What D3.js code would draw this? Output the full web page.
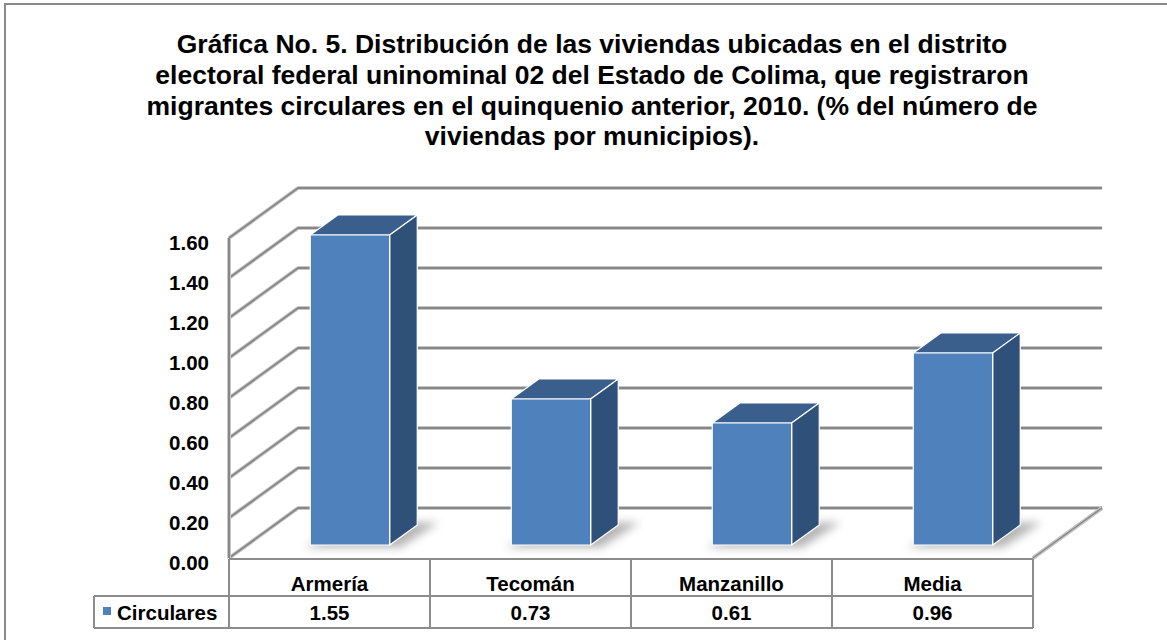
<!DOCTYPE html>
<meta charset="utf-8">
<style>
body { margin: 0; background: #fff; }
text { font-family: Arial, "Liberation Sans", sans-serif; font-weight: bold; fill: #000; }
</style>
<body>
<script src="https://cdn.jsdelivr.net/npm/d3@7"></script>
<script>
// datos
var titulo = [
  "Gráfica No. 5. Distribución de las viviendas ubicadas en el distrito",
  "electoral federal uninominal 02 del Estado de Colima, que registraron",
  "migrantes circulares en el quinquenio anterior, 2010. (% del número de",
  "viviendas por municipios)."
];
var categorias = ["Armería", "Tecomán", "Manzanillo", "Media"];
var circulares = [1.55, 0.73, 0.61, 0.96];
var serie = "Circulares";
var ticks = [0, 0.2, 0.4, 0.6, 0.8, 1.0, 1.2, 1.4, 1.6];

var width = 1167, height = 640;
var DX = 69, DY = 50;          // desplazamiento de profundidad
var x0 = 229, x1 = 1033;       // plano frontal
var yBase = 558;

var svg = d3.select("body").append("svg")
    .attr("width", width)
    .attr("height", height);

var defs = svg.append("defs");
defs.append("filter").attr("id", "blur")
    .attr("x", "-50%").attr("y", "-50%").attr("width", "200%").attr("height", "200%")
  .append("feGaussianBlur").attr("stdDeviation", 4);
defs.append("filter").attr("id", "soft")
  .append("feGaussianBlur").attr("stdDeviation", 0.6);

// marco exterior
svg.append("rect")
    .attr("x", 5).attr("y", 4)
    .attr("width", 1300).attr("height", 800)
    .attr("fill", "none").attr("stroke", "#8a8a8a").attr("stroke-width", 2);

// titulo
svg.append("g").selectAll("text")
    .data(titulo)
  .enter().append("text")
    .attr("x", 592)
    .attr("y", function(d, i) { return 53 + i * 30.8; })
    .attr("text-anchor", "middle")
    .style("font-size", "26.5px")
    .text(function(d) { return d; });

var x = d3.scaleBand().domain(categorias).range([x0, x1]);
var y = d3.scaleLinear().domain([0, 1.6]).range([yBase, yBase - 320]);

// proyeccion: punto del plano frontal desplazado en profundidad z (0..1)
function P(px, v, z) { return [px + z * DX, y(v) - z * DY]; }

var grid = svg.append("g");
var line = d3.line();

function gridLine(pts, w) {
  grid.append("path").attr("d", line(pts))
      .attr("fill", "none").attr("stroke", "#c8c8c8").attr("stroke-width", w + 2)
      .attr("stroke-linejoin", "round");
  grid.append("path").attr("d", line(pts))
      .attr("fill", "none").attr("stroke", "#878787").attr("stroke-width", w)
      .attr("stroke-linejoin", "round");
}

// pared izquierda y pared del fondo
ticks.forEach(function(t) {
  gridLine([P(x0, t, 0), P(x0, t, 1), P(x1, t, 1)], 2);
});
// arista vertical izquierda
gridLine([P(x0, 0, 0), P(x0, 1.6, 0)], 2);
// piso: arista derecha
grid.append("path")
    .attr("d", line([P(x1, 0, 0), P(x1, 0, 1)]))
    .attr("stroke", "#b0b0b0").attr("stroke-width", 4).attr("filter", "url(#soft)");
gridLine([P(x1, 0, 0), P(x1, 0, 1)], 1.5);

// etiquetas del eje y
svg.append("g").selectAll("text")
    .data(ticks)
  .enter().append("text")
    .attr("x", 209)
    .attr("y", function(d) { return y(d) + 12; })
    .attr("text-anchor", "end")
    .style("font-size", "20.5px")
    .text(d3.format(".2f"));

// barras 3d
var zf = 0.26, zb = 0.66;
var bw = x.bandwidth();
var bars = svg.append("g").selectAll("g")
    .data(categorias.map(function(c, i) { return {c: c, v: circulares[i]}; }))
  .enter().append("g");

function poly(pts) { return "M" + pts.join("L") + "Z"; }
function bx(d) { return x(d.c) + bw * 0.315; }
function bx2(d) { return x(d.c) + bw * 0.71; }

// sombra
bars.append("path")
    .attr("d", function(d) {
      return poly([P(bx(d) - 2, 0, zf - 0.05), P(bx2(d) + 14, 0, zf - 0.05),
                   P(bx2(d) + 18, 0, zb + 0.05), P(bx(d) + 14, 0, zb + 0.05)]);
    })
    .attr("fill", "#7a7a7a").attr("opacity", 0.55).attr("filter", "url(#blur)");

// cara superior
bars.append("path")
    .attr("d", function(d) {
      return poly([P(bx(d), d.v, zf), P(bx2(d), d.v, zf), P(bx2(d), d.v, zb), P(bx(d), d.v, zb)]);
    })
    .attr("fill", "#3b5f8d");
// cara lateral
bars.append("path")
    .attr("d", function(d) {
      return poly([P(bx2(d), 0, zf), P(bx2(d), d.v, zf), P(bx2(d), d.v, zb), P(bx2(d), 0, zb)]);
    })
    .attr("fill", "#2f5078");
// cara frontal
bars.append("path")
    .attr("d", function(d) {
      return poly([P(bx(d), 0, zf), P(bx2(d), 0, zf), P(bx2(d), d.v, zf), P(bx(d), d.v, zf)]);
    })
    .attr("fill", "#4f81bd");
bars.selectAll("path:not(:first-child)")
    .attr("stroke", "#fff").attr("stroke-width", 1.2).attr("stroke-linejoin", "round");

// tabla de datos
var tabla = svg.append("g")
    .attr("stroke", "#8c8c8c").attr("stroke-width", 2).attr("fill", "none");
var r0 = yBase + 1, r1 = 596, r2 = 628, xl = 94;
tabla.append("path").attr("d", line([[x0, r0], [x1, r0]]));
tabla.append("path").attr("d", line([[xl, r1], [x1, r1]]));
tabla.append("path").attr("d", line([[xl, r2], [x1, r2]]));
tabla.append("path").attr("d", line([[xl, r1], [xl, r2]]));
tabla.selectAll(".v")
    .data(categorias.concat(["fin"]))
  .enter().append("path")
    .attr("d", function(d) {
      var xx = d === "fin" ? x1 : x(d);
      return line([[xx, r0], [xx, r2]]);
    });

svg.append("g").selectAll("text")
    .data(categorias)
  .enter().append("text")
    .attr("x", function(d) { return x(d) + bw / 2; })
    .attr("y", 591)
    .attr("text-anchor", "middle")
    .style("font-size", "20.5px")
    .text(function(d) { return d; });

svg.append("g").selectAll("text")
    .data(circulares)
  .enter().append("text")
    .attr("x", function(d, i) { return x(categorias[i]) + bw / 2; })
    .attr("y", 620)
    .attr("text-anchor", "middle")
    .style("font-size", "20.5px")
    .text(d3.format(".2f"));

// leyenda
svg.append("rect")
    .attr("x", 103).attr("y", 607)
    .attr("width", 8).attr("height", 8)
    .attr("fill", "#4f81bd");
svg.append("text")
    .attr("x", 117).attr("y", 620)
    .style("font-size", "20.5px")
    .text(serie);
</script>
